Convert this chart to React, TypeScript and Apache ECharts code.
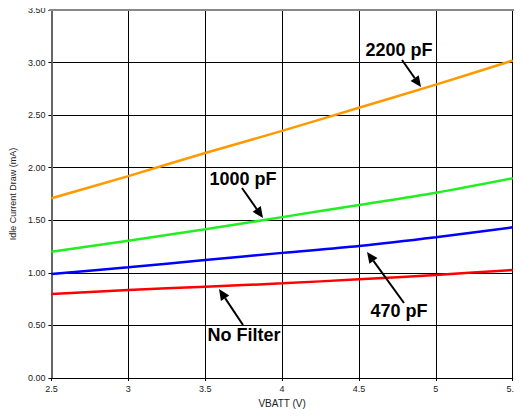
import React, { useEffect, useRef } from "react";
import * as echarts from "echarts";

const vbatt = [2.5, 3.0, 3.5, 4.0, 4.5, 5.0, 5.5];
const pf2200 = [1.71, 1.92, 2.14, 2.35, 2.57, 2.79, 3.02];
const pf1000 = [1.2, 1.306, 1.414, 1.53, 1.645, 1.762, 1.9];
const pf470 = [0.99, 1.053, 1.122, 1.19, 1.255, 1.338, 1.433];
const noFilter = [0.8, 0.837, 0.868, 0.9, 0.939, 0.98, 1.027];

const seriesNames = ["2200 pF", "1000 pF", "470 pF", "No Filter"];
const seriesColors = ["#FF9900", "#22EE22", "#0000FF", "#FF0000"];

const FONT = "'Liberation Sans', Arial, sans-serif";

function arrow(x1: number, y1: number, x2: number, y2: number) {
  const dx = x2 - x1;
  const dy = y2 - y1;
  const len = Math.sqrt(dx * dx + dy * dy);
  const ux = dx / len;
  const uy = dy / len;
  const hl = 11;
  const hw = 5;
  const bx = x2 - ux * hl;
  const by = y2 - uy * hl;
  return [
    {
      type: "line",
      shape: { x1, y1, x2: bx, y2: by },
      style: { stroke: "#000", lineWidth: 2 },
      z: 100,
    },
    {
      type: "polygon",
      shape: {
        points: [
          [x2, y2],
          [bx - uy * hw, by + ux * hw],
          [bx + uy * hw, by - ux * hw],
        ],
      },
      style: { fill: "#000" },
      z: 100,
    },
  ];
}

function label(text: string, x: number, y: number) {
  return {
    type: "text",
    x,
    y,
    z: 100,
    style: {
      text,
      font: `bold 18px ${FONT}`,
      fill: "#000",
      textAlign: "center",
      textVerticalAlign: "middle",
    },
  };
}

export default function App() {
  const ref = useRef<HTMLDivElement>(null);
  useEffect(() => {
    if (!ref.current) return;
    const chart = echarts.init(ref.current, undefined, { renderer: "svg" });
    const lists = [pf2200, pf1000, pf470, noFilter];
    chart.setOption({
      animation: false,
      backgroundColor: "#fff",
      grid: { left: 49, right: 4, top: 10, bottom: 39, show: false },
      xAxis: {
        type: "value",
        min: 2.5,
        max: 5.5,
        interval: 0.5,
        name: "VBATT (V)",
        nameLocation: "middle",
        nameGap: 20,
        nameTextStyle: { fontFamily: FONT, fontSize: 10, color: "#222" },
        axisLine: { show: true, onZero: false, lineStyle: { color: "#000", width: 1 } },
        axisTick: { show: true, length: 3, lineStyle: { color: "#000" } },
        axisLabel: { fontFamily: FONT, fontSize: 9, color: "#222", margin: 6 },
        splitLine: { show: true, lineStyle: { color: "#000", width: 1 } },
      },
      yAxis: {
        type: "value",
        min: 0,
        max: 3.5,
        interval: 0.5,
        name: "Idle Current Draw (mA)",
        nameLocation: "middle",
        nameGap: 28,
        nameTextStyle: { fontFamily: FONT, fontSize: 9, color: "#222" },
        axisLine: { show: true, lineStyle: { color: "#666", width: 2 } },
        axisTick: { show: true, length: 3, lineStyle: { color: "#000" } },
        axisLabel: {
          fontFamily: FONT,
          fontSize: 9,
          color: "#222",
          margin: 6,
          formatter: (v: number) => v.toFixed(2),
        },
        splitLine: { show: true, lineStyle: { color: "#000", width: 1 } },
      },
      series: lists.map((vals, i) => ({
        name: seriesNames[i],
        type: "line",
        data: vbatt.map((x, j) => [x, vals[j]]),
        smooth: 0.3,
        showSymbol: false,
        lineStyle: { color: seriesColors[i], width: 2.5 },
        itemStyle: { color: seriesColors[i] },
        z: 10,
      })),
      graphic: [
        {
          type: "line",
          shape: { x1: 49, y1: 10, x2: 518, y2: 10 },
          style: { stroke: "#888", lineWidth: 2 },
          z: 50,
        },
        {
          type: "line",
          shape: { x1: 518, y1: 10, x2: 518, y2: 378 },
          style: { stroke: "#888", lineWidth: 2 },
          z: 50,
        },
        label("2200 pF", 399, 50),
        ...arrow(402, 60, 421, 87),
        label("1000 pF", 243, 179),
        ...arrow(242, 188, 263, 218),
        label("470 pF", 399, 311),
        ...arrow(404, 303, 367, 252),
        label("No Filter", 244, 335),
        ...arrow(243, 325, 219, 289),
      ],
    });
    return () => chart.dispose();
  }, []);
  return <div ref={ref} style={{ width: 522, height: 417, margin: -8 }} />;
}
